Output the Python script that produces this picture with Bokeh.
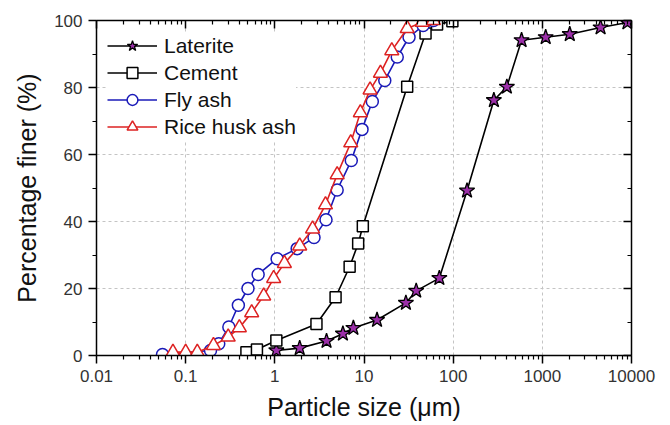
from bokeh.plotting import figure
from bokeh.models import (FixedTicker, SingleIntervalTicker, LogAxis, LinearAxis,
                          CustomJSTickFormatter, Legend, LegendItem, Range1d)
from bokeh.embed import file_html
from bokeh.resources import INLINE

# ---- data ----
lat_x = [1.04, 1.9, 3.8, 5.8, 7.6, 14, 29.5, 38.5, 70, 143, 286, 400, 585, 1090, 2030, 4500, 9000]
lat_y = [1.5, 2.2, 4.3, 6.5, 8.2, 10.6, 15.7, 19.3, 23.1, 49.2, 76.2, 80.2, 94.1, 95.0, 95.9, 97.9, 99.4]

cem_x = [0.48, 0.63, 1.04, 2.93, 4.8, 6.9, 8.6, 9.7, 30.5, 49, 66, 98]
cem_y = [1.0, 1.8, 4.5, 9.4, 17.4, 26.5, 33.4, 38.6, 80.2, 96.1, 98.8, 99.8]

fly_x = [0.055, 0.19, 0.235, 0.305, 0.39, 0.5, 0.65, 1.06, 1.78, 2.75, 3.75, 5.0, 7.2, 9.5,
         12.4, 17.1, 23.6, 32, 46, 60]
fly_y = [0.3, 1.5, 3.5, 8.5, 15, 20, 24.2, 28.9, 31.9, 35.2, 40.5, 49.4, 58.2, 67.5,
         75.8, 82.1, 89.1, 95.0, 98.5, 100]

rha_x = [0.072, 0.1, 0.135, 0.205, 0.3, 0.4, 0.55, 0.75, 0.97, 1.28, 1.9, 2.65, 3.7, 5.0,
         7.1, 9.1, 11.7, 15.3, 20.5, 30.5, 45, 60]
rha_y = [1, 1, 1, 3, 5.5, 8.3, 12.8, 17.8, 23.0, 27.5, 32.7, 37.8, 45, 54, 63.5, 72.5,
         79.3, 84.3, 91, 97.6, 99.5, 100]

x_ticks = [0.01, 0.1, 1, 10, 100, 1000, 10000]
x_minor = [m * 10.0 ** k for k in range(-2, 4) for m in range(2, 10)]

FONT = "Liberation Sans"
BLUE = "#1a1ab8"
RED = "#dd2222"
PURPLE = "#9b2fa8"

p = figure(width=670, height=425, x_axis_type="log", output_backend="svg",
           toolbar_location=None, x_range=Range1d(0.01, 10000), y_range=Range1d(0, 100),
           min_border_left=96, min_border_right=39, min_border_top=20, min_border_bottom=70)
p.outline_line_color = None
p.background_fill_color = "white"

xt = FixedTicker(ticks=x_ticks, minor_ticks=x_minor)
yt = SingleIntervalTicker(interval=20, num_minor_ticks=2)
fmt = CustomJSTickFormatter(code="return String(tick);")

xa = p.xaxis[0]
xa.ticker = xt
xa.formatter = fmt
ya = p.yaxis[0]
ya.ticker = yt

for ax in (xa, ya):
    ax.axis_line_width = 1.5
    ax.axis_line_color = "black"
    ax.major_tick_line_width = 1.5
    ax.minor_tick_line_width = 1.2
    ax.major_tick_out = 8
    ax.major_tick_in = 0
    ax.minor_tick_out = 4
    ax.minor_tick_in = 0
    ax.major_label_text_font = FONT
    ax.major_label_text_font_size = "17px"
    ax.major_label_text_color = "#333333"
    ax.axis_label_text_font = FONT
    ax.axis_label_text_font_size = "25px"
    ax.axis_label_text_font_style = "normal"
    ax.axis_label_text_color = "#111111"
    ax.major_label_standoff = 6

xa.axis_label = "Particle size (\u03bcm)"
xa.axis_label_standoff = 8
ya.axis_label = "Percentage finer (%)"
ya.axis_label_standoff = 10

blank = CustomJSTickFormatter(code="return '';")
top = LogAxis(ticker=FixedTicker(ticks=x_ticks, minor_ticks=x_minor), formatter=blank)
right = LinearAxis(ticker=SingleIntervalTicker(interval=20, num_minor_ticks=2), formatter=blank)
for ax in (top, right):
    ax.axis_line_width = 1.5
    ax.major_tick_line_width = 1.5
    ax.minor_tick_line_width = 1.2
    ax.major_tick_in = 8
    ax.major_tick_out = 0
    ax.minor_tick_in = 4
    ax.minor_tick_out = 0
    ax.major_label_text_font_size = "8px"
    ax.major_label_standoff = 0
p.add_layout(top, "above")
p.add_layout(right, "right")

for g in (p.xgrid[0], p.ygrid[0]):
    g.grid_line_color = "#c4c4c4"
    g.grid_line_dash = "3 3"
    g.grid_line_width = 1
p.xgrid[0].ticker = xt
p.ygrid[0].ticker = yt

items = []
# Laterite
l1 = p.line(lat_x, lat_y, line_color="black", line_width=1.6)
m1 = p.scatter(lat_x, lat_y, marker="star", size=16, fill_color=PURPLE,
               line_color="black", line_width=1.3)
items.append(LegendItem(label="Laterite", renderers=[l1, m1]))
# Cement
l2 = p.line(cem_x, cem_y, line_color="black", line_width=1.6)
m2 = p.scatter(cem_x, cem_y, marker="square", size=11, fill_color="white",
               line_color="black", line_width=1.5)
items.append(LegendItem(label="Cement", renderers=[l2, m2]))
# Fly ash
l3 = p.line(fly_x, fly_y, line_color=BLUE, line_width=1.6)
m3 = p.scatter(fly_x, fly_y, marker="circle", size=12, fill_color="white",
               line_color=BLUE, line_width=1.5)
items.append(LegendItem(label="Fly ash", renderers=[l3, m3]))
# Rice husk ash
l4 = p.line(rha_x, rha_y, line_color=RED, line_width=1.6)
m4 = p.scatter(rha_x, rha_y, marker="triangle", size=14, fill_color="white",
               line_color=RED, line_width=1.5)
items.append(LegendItem(label="Rice husk ash", renderers=[l4, m4]))

legend = Legend(items=items, location=(11, 215))
legend.border_line_color = None
legend.background_fill_color = "white"
legend.background_fill_alpha = 1.0
legend.label_text_font = FONT
legend.label_text_font_size = "21px"
legend.label_text_color = "#111111"
legend.glyph_width = 50
legend.glyph_height = 27
legend.label_height = 27
legend.spacing = 0
legend.margin = 0
legend.padding = 5
legend.label_standoff = 7
p.add_layout(legend)

open("out.html", "w").write(file_html(p, INLINE))
